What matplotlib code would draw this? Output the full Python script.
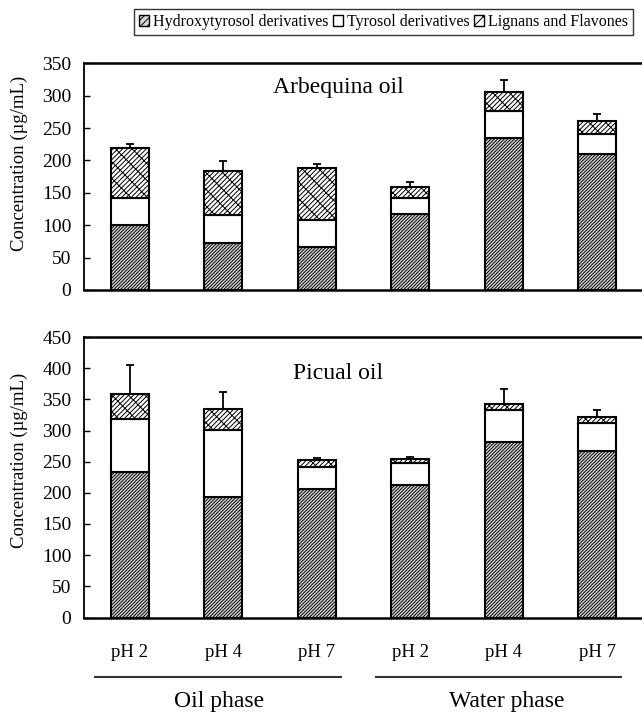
import matplotlib
matplotlib.use("Agg")
import matplotlib.pyplot as plt
import numpy as np
from matplotlib.patches import Patch
import matplotlib.transforms as mtransforms

plt.rcParams['font.family'] = ['Liberation Serif', 'DejaVu Serif']
plt.rcParams['hatch.linewidth'] = 0.7

# ---- data ----
ph_labels = ["pH 2", "pH 4", "pH 7", "pH 2", "pH 4", "pH 7"]
phases = ["Oil phase", "Water phase"]
series_names = ["Hydroxytyrosol derivatives", "Tyrosol derivatives", "Lignans and Flavones"]

arb_hydroxy = [100.0, 73.0, 66.0, 118.0, 234.0, 210.0]
arb_tyrosol = [41.5, 42.8, 42.0, 23.5, 43.0, 31.0]
arb_lignans = [78.3, 68.4, 80.9, 18.0, 29.2, 20.4]
arb_err = [5.6, 15.5, 5.6, 7.8, 18.0, 9.8]

pic_hydroxy = [233.0, 194.0, 206.0, 212.0, 281.5, 266.6]
pic_tyrosol = [85.3, 107.2, 35.5, 35.9, 50.7, 45.8]
pic_lignans = [40.5, 33.1, 10.7, 5.9, 10.1, 9.6]
pic_err = [46.4, 26.7, 4.3, 4.2, 23.5, 11.2]

W, H = 642, 715
fig = plt.figure(figsize=(W / 100, H / 100), dpi=100)

def fx(px):
    return px / W

def fy(py):
    return 1 - py / H

ax1 = fig.add_axes([fx(84), fy(290), 1 - fx(84), (290 - 63.3) / H])
ax2 = fig.add_axes([fx(84), fy(617.5), 1 - fx(84), (617.5 - 337) / H])

hatch_hyd = '/' * 10
hatch_lig = '/' * 7 + '\\' * 2
x = np.arange(len(ph_labels))
bw = 0.41

def draw(ax, hyd, tyr, lig, err, ymax, title, title_y):
    hyd = np.array(hyd); tyr = np.array(tyr); lig = np.array(lig)
    ax.bar(x, hyd, bw, color='#d8d8d8', edgecolor='black', linewidth=1.5,
           hatch=hatch_hyd, zorder=2)
    ax.bar(x, tyr, bw, bottom=hyd, color='white', edgecolor='black',
           linewidth=1.5, zorder=2)
    ax.bar(x, lig, bw, bottom=hyd + tyr, color='white', edgecolor='black',
           linewidth=1.5, hatch=hatch_lig, zorder=2)
    tot = hyd + tyr + lig
    ax.errorbar(x, tot, yerr=[np.zeros_like(tot), np.array(err)], fmt='none',
                ecolor='black', elinewidth=1.3, capsize=3.2, capthick=1.3, zorder=3)
    ax.set_xlim(-0.49, 5.48)
    ax.set_ylim(0, ymax)
    ax.set_yticks(np.arange(0, ymax + 1, 50))
    ax.tick_params(axis='y', direction='in', length=4, width=1, labelsize=14, pad=9)
    ax.spines['right'].set_visible(False)
    ax.spines['top'].set_linewidth(1.8)
    ax.spines['bottom'].set_linewidth(1.8)
    ax.spines['left'].set_linewidth(1.3)
    ax.set_ylabel("Concentration (µg/mL)", fontsize=13.5)
    ax.yaxis.set_label_coords(-0.100, 0.56)
    ax.text(2.23, title_y, title, fontsize=17, ha='center', va='center')

draw(ax1, arb_hydroxy, arb_tyrosol, arb_lignans, arb_err, 350, "Arbequina oil", 313)
draw(ax2, pic_hydroxy, pic_tyrosol, pic_lignans, pic_err, 450, "Picual oil", 392)

ax1.set_xticks([])
ax2.set_xticks(x)
ax2.set_xticklabels(ph_labels, fontsize=13.5)
ax2.tick_params(axis='x', length=0, pad=19)

trans = mtransforms.blended_transform_factory(ax2.transData, ax2.transAxes)
line_y = -0.212
for (x0, x1), name, cx in zip([(-0.37, 2.26), (2.63, 5.26)], phases, [0.95, 4.03]):
    ax2.plot([x0, x1], [line_y, line_y], color='#333333', lw=1.5, transform=trans,
             clip_on=False)
    ax2.text(cx, -0.300, name, fontsize=17, ha='center', va='center', transform=trans)

handles = [Patch(facecolor='#d8d8d8', edgecolor='black', hatch='/' * 5, label=series_names[0]),
           Patch(facecolor='white', edgecolor='black', label=series_names[1]),
           Patch(facecolor='white', edgecolor='black', hatch='/' * 3 + '\\', label=series_names[2])]
leg = fig.legend(handles=handles, loc='upper right', bbox_to_anchor=(fx(633), fy(9)),
                 ncol=3, fontsize=11.5, frameon=True, fancybox=False, borderpad=0.3,
                 handlelength=0.65, handleheight=0.65, handletextpad=0.25,
                 columnspacing=0.25, borderaxespad=0)
leg.get_frame().set_edgecolor('black')
leg.get_frame().set_linewidth(1.0)

fig.savefig("out.png", dpi=100)
